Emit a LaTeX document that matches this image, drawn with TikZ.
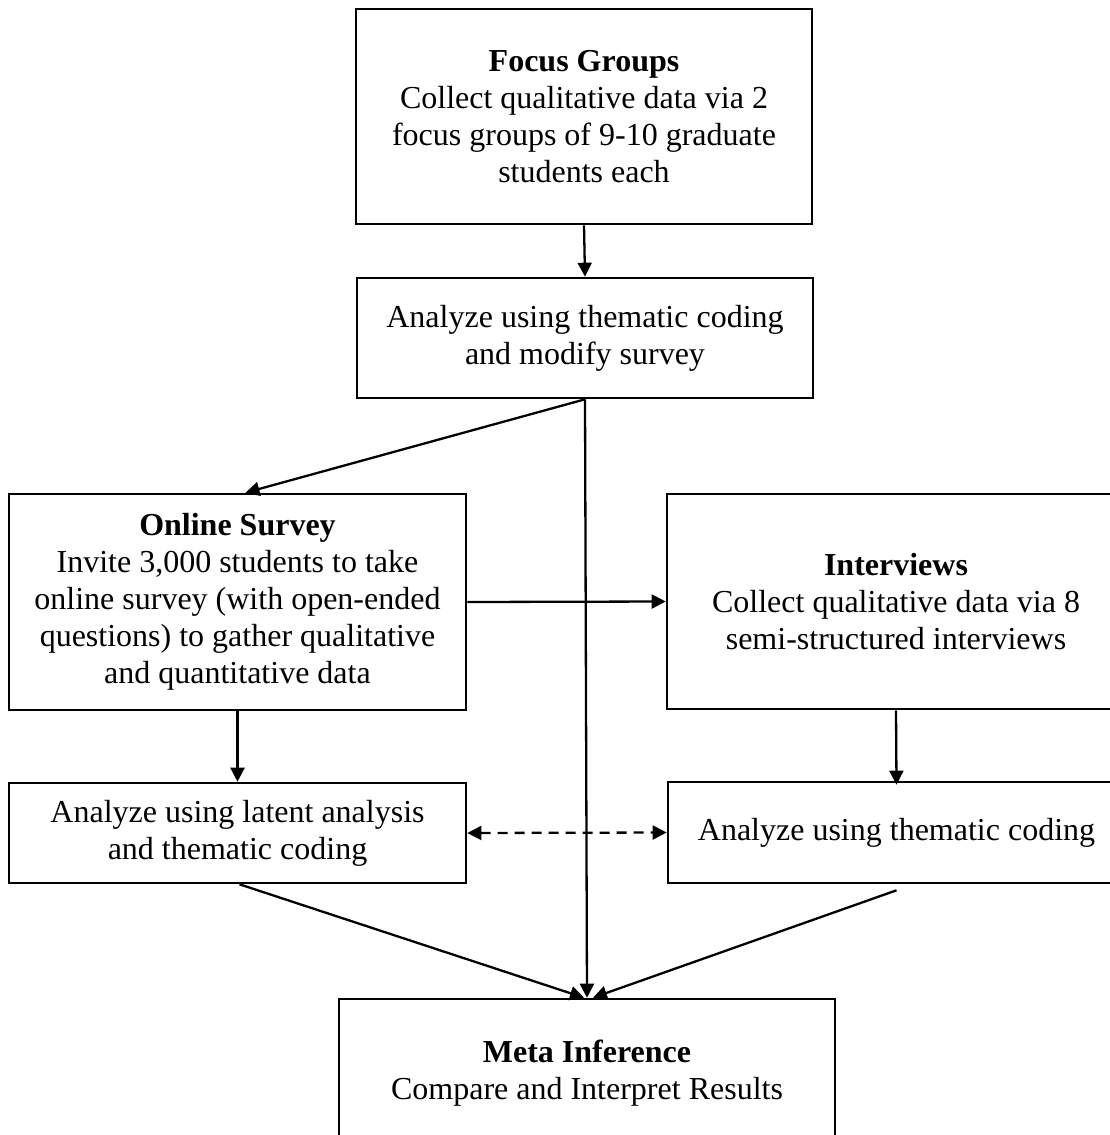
\documentclass[tikz,border=0pt]{standalone}
\usepackage{fontspec}
\setmainfont{Liberation Serif}
\usetikzlibrary{arrows.meta}
\begin{document}
\begin{tikzpicture}[x=1pt,y=-1pt,
  box/.style={draw,line width=2.6pt,align=center,inner sep=0pt,
    font=\fontsize{32}{37}\selectfont},
  conn/.style={line width=2.3pt,-{Triangle[length=14pt,width=14pt]}},
  dconn/.style={line width=2.3pt,dash pattern=on 10pt off 7pt,
    {Triangle[length=14pt,width=14pt]}-{Triangle[length=14pt,width=14pt]}},
]
\useasboundingbox (0,0) rectangle (1110,1135);
\clip (0,0) rectangle (1110,1135);
\node[box,minimum width=456pt,minimum height=215pt] (focus) at (584,116.5)
  {\textbf{Focus Groups}\\Collect qualitative data via 2\\focus groups of 9-10 graduate\\students each};
\node[box,minimum width=456pt,minimum height=120pt] (anaA) at (585,338)
  {Analyze using thematic coding\\and modify survey};
\node[box,minimum width=457pt,minimum height=216pt] (survey) at (237.5,602)
  {\textbf{Online Survey}\\Invite 3,000 students to take\\online survey (with open-ended\\questions) to gather qualitative\\and quantitative data};
\node[box,minimum width=458pt,minimum height=215pt] (interv) at (896,601.5)
  {\textbf{Interviews}\\Collect qualitative data via 8\\semi-structured interviews};
\node[box,minimum width=457pt,minimum height=100pt] (latent) at (237.5,833)
  {Analyze using latent analysis\\and thematic coding};
\node[box,minimum width=457pt,minimum height=101pt] (thema) at (896.5,832.5)
  {Analyze using thematic coding};
\node[box,minimum width=496pt,minimum height=148pt] (meta) at (587,1073)
  {\textbf{Meta Inference}\\Compare and Interpret Results};

\draw[conn] (focus.south) -- (anaA.north);
\draw[conn] (anaA.south) -- ([xshift=8pt]survey.north);
\draw[conn] (anaA.south) -- (meta.north);
\draw[conn] (survey.east) -- (interv.west);
\draw[conn] (survey.south) -- (latent.north);
\draw[conn] (interv.south) -- ([yshift=-4pt]thema.north);
\draw[dconn] (latent.east) -- (thema.west);
\draw[conn] ([xshift=2pt]latent.south) -- ([xshift=-3pt]meta.north);
\draw[conn] ([yshift=-6pt]thema.south) -- ([xshift=6pt]meta.north);
\end{tikzpicture}
\end{document}
